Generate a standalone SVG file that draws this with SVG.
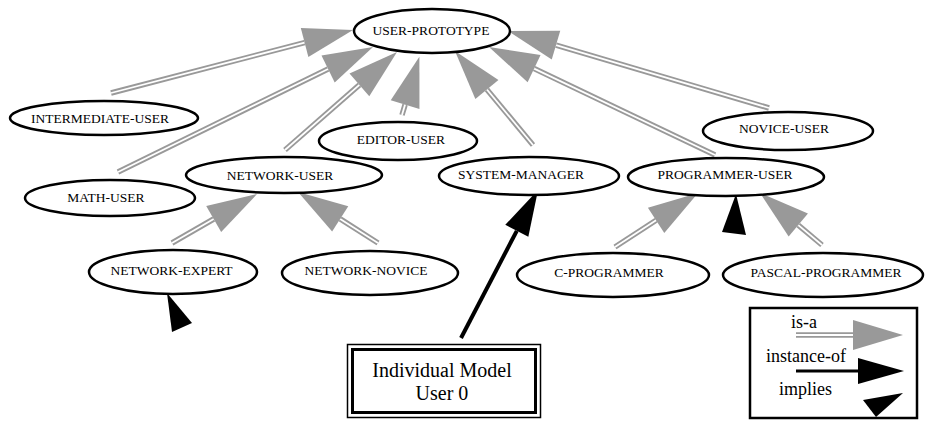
<svg xmlns="http://www.w3.org/2000/svg" width="926" height="422" viewBox="0 0 926 422">
<defs>
<marker id="isa" markerUnits="userSpaceOnUse" markerWidth="60" markerHeight="40" refX="0" refY="20" orient="auto" overflow="visible">
<path d="M0,5 L50,20 L0,35 z" fill="#999999"/>
</marker>
<marker id="inst" markerUnits="userSpaceOnUse" markerWidth="60" markerHeight="40" refX="0" refY="20" orient="auto" overflow="visible">
<path d="M0,7 L46,20 L0,33 z" fill="#000000"/>
</marker>
</defs>
<style>
.node ellipse{fill:#ffffff;stroke:#000000;stroke-width:2.5}
.node text{font-family:"Liberation Serif","Times New Roman",serif;font-size:13.5px;fill:#000000;text-anchor:middle}
.isaOuter{fill:none;stroke:#999999;stroke-width:5.5}
.isaInner{fill:none;stroke:#ffffff;stroke-width:1.8;marker-end:url(#isa)}
.inst{fill:none;stroke:#000000;stroke-width:4;marker-end:url(#inst)}
.impl{fill:#000000}
.big{font-family:"Liberation Serif","Times New Roman",serif;font-size:20px;fill:#000000;text-anchor:middle}
.leg{font-family:"Liberation Serif","Times New Roman",serif;font-size:18px;fill:#000000}
</style>
<rect width="926" height="422" fill="#ffffff"/>
<g id="connectors">
<path class="isaOuter" d="M111,93 L304.6,42.6"/><path class="isaInner" d="M111,93 L304.6,42.6"/>
<path class="isaOuter" d="M118,172 L328.1,69"/><path class="isaInner" d="M118,172 L328.1,69"/>
<path class="isaOuter" d="M285,150 L359.4,84.9"/><path class="isaInner" d="M285,150 L359.4,84.9"/>
<path class="isaOuter" d="M402,115 L405.1,104.6"/><path class="isaInner" d="M402,115 L405.1,104.6"/>
<path class="isaOuter" d="M533,145 L486.9,89.5"/><path class="isaInner" d="M533,145 L486.9,89.5"/>
<path class="isaOuter" d="M715,155 L534.1,68.6"/><path class="isaInner" d="M715,155 L534.1,68.6"/>
<path class="isaOuter" d="M769,108 L556,45.1"/><path class="isaInner" d="M769,108 L556,45.1"/>
<path class="isaOuter" d="M172,243 L213.7,219"/><path class="isaInner" d="M172,243 L213.7,219"/>
<path class="isaOuter" d="M378,243 L340.2,218.9"/><path class="isaInner" d="M378,243 L340.2,218.9"/>
<path class="isaOuter" d="M615,247 L656.1,220.3"/><path class="isaInner" d="M615,247 L656.1,220.3"/>
<path class="isaOuter" d="M822,245 L798.3,225.1"/><path class="isaInner" d="M822,245 L798.3,225.1"/>
<path class="inst" d="M461,338 L516.8,230.8"/>
<polygon class="impl" points="167,293 192,323 172,332"/>
<polygon class="impl" points="736,194 722,232 746,235"/>
</g>
<g id="user-prototype" class="node"><ellipse cx="432" cy="31" rx="78" ry="22"/><text x="431" y="34.5">USER-PROTOTYPE</text></g>
<g id="intermediate-user" class="node"><ellipse cx="104" cy="118" rx="94" ry="17"/><text x="100" y="122.5">INTERMEDIATE-USER</text></g>
<g id="math-user" class="node"><ellipse cx="110" cy="198" rx="85" ry="18"/><text x="106" y="201.5">MATH-USER</text></g>
<g id="network-user" class="node"><ellipse cx="284" cy="175" rx="98" ry="18"/><text x="280" y="179.5">NETWORK-USER</text></g>
<g id="editor-user" class="node"><ellipse cx="398" cy="141" rx="79" ry="19"/><text x="401" y="144">EDITOR-USER</text></g>
<g id="system-manager" class="node"><ellipse cx="529" cy="176" rx="90" ry="19"/><text x="521" y="179">SYSTEM-MANAGER</text></g>
<g id="programmer-user" class="node"><ellipse cx="726" cy="177" rx="98" ry="19"/><text x="725" y="179">PROGRAMMER-USER</text></g>
<g id="novice-user" class="node"><ellipse cx="788" cy="131" rx="85" ry="19"/><text x="784" y="132.5">NOVICE-USER</text></g>
<g id="network-expert" class="node"><ellipse cx="173" cy="272" rx="84" ry="22"/><text x="171.5" y="275">NETWORK-EXPERT</text></g>
<g id="network-novice" class="node"><ellipse cx="370" cy="273" rx="88" ry="22"/><text x="366" y="275">NETWORK-NOVICE</text></g>
<g id="c-programmer" class="node"><ellipse cx="613" cy="275" rx="96" ry="22"/><text x="609" y="277">C-PROGRAMMER</text></g>
<g id="pascal-programmer" class="node"><ellipse cx="823" cy="275" rx="100" ry="22"/><text x="826" y="277">PASCAL-PROGRAMMER</text></g>
<g id="individual-model">
<rect x="347.5" y="344.5" width="193" height="73" fill="#ffffff" stroke="#000000" stroke-width="1.5"/>
<rect x="352.5" y="349.5" width="183" height="63" fill="none" stroke="#000000" stroke-width="3"/>
<text class="big" x="442" y="377">Individual Model</text>
<text class="big" x="442" y="400">User 0</text>
</g>
<g id="legend">
<rect x="750" y="308" width="167" height="110" fill="#ffffff" stroke="#000000" stroke-width="2.5"/>
<text class="leg" x="791" y="328">is-a</text>
<path class="isaOuter" d="M796,335 L853,335"/><path class="isaInner" d="M796,335 L853,335"/>
<text class="leg" x="766" y="362">instance-of</text>
<path d="M796,371 L858,371" fill="none" stroke="#000000" stroke-width="3" marker-end="url(#inst)"/>
<text class="leg" x="779" y="395">implies</text>
<polygon class="impl" points="863,400 903,393 876,417"/>
</g>
</svg>
